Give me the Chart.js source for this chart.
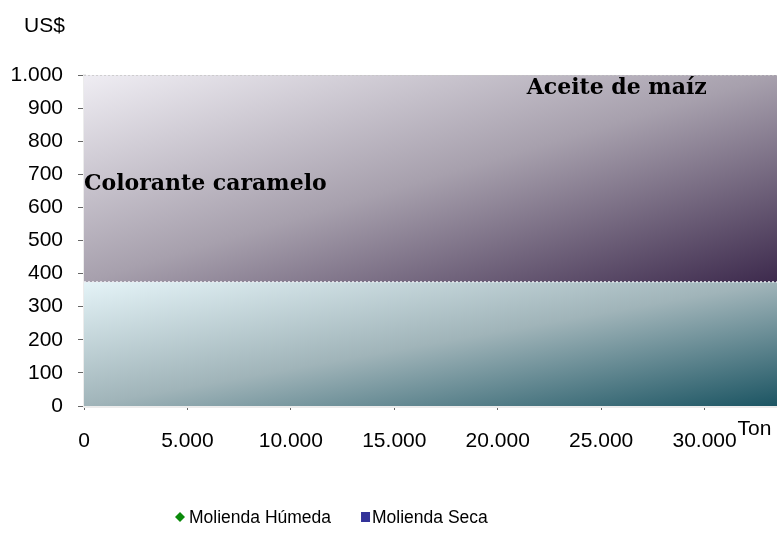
<!DOCTYPE html>
<html>
<head>
<meta charset="utf-8">
<script src="https://cdn.jsdelivr.net/npm/chart.js@4"></script>
<style>
html,body{margin:0;padding:0;background:#fff;}
#wrap{width:777px;height:533px;position:relative;}
</style>
</head>
<body>
<div id="wrap"><canvas id="c" width="777" height="533"></canvas></div>
<script>
// ---- data ----
const xExtent = [0, 33500];                 // Ton
const coloranteUpper = [375, 375];          // US$ (upper edge of "Colorante caramelo" band)
const aceiteUpper = [1000, 1000];           // US$ (upper edge of "Aceite de maíz" band)
const bandNames = ['Colorante caramelo', 'Aceite de maíz'];
const bandLabelX = [0, 21400];
const bandLabelY = [670, 960];
const seriesNames = ['Molienda Húmeda', 'Molienda Seca'];
const seriesColors = ['#0a8a0a', '#333399'];
const xTicks = [0, 5000, 10000, 15000, 20000, 25000, 30000];
const yTicks = [0, 100, 200, 300, 400, 500, 600, 700, 800, 900, 1000];

function fmt(v){ return v.toString().replace(/\B(?=(\d{3})+(?!\d))/g, '.'); }

function bandGradient(chart, yLow, yHigh, stops){
  const xs = chart.scales.x, ys = chart.scales.y;
  if (!xs || !ys || !chart.chartArea) return stops[1];
  const l = xs.getPixelForValue(xExtent[0]), r = xs.getPixelForValue(xExtent[1]);
  const t = ys.getPixelForValue(yHigh), b = ys.getPixelForValue(yLow);
  const w = r - l, h = b - t;
  const cx = (l + r) / 2, cy = (t + b) / 2;
  const k = w * h / (w * w + h * h);
  const g = chart.ctx.createLinearGradient(cx - k * h, cy - k * w, cx + k * h, cy + k * w);
  g.addColorStop(0, stops[0]);
  g.addColorStop(0.5, stops[1]);
  g.addColorStop(1, stops[2]);
  return g;
}

const pts = (ys) => xExtent.map((x, i) => ({x: x, y: ys[i]}));

const textPlugin = {
  id: 'texts',
  afterDatasetsDraw(chart){
    const ctx = chart.ctx, xs = chart.scales.x, ys = chart.scales.y;
    ctx.save();
    ctx.fillStyle = '#000';
    ctx.font = 'bold 22px "DejaVu Serif", serif';
    ctx.textBaseline = 'middle';
    ctx.textAlign = 'left';
    bandNames.forEach((n, i) => {
      ctx.fillText(n, xs.getPixelForValue(bandLabelX[i]), ys.getPixelForValue(bandLabelY[i]));
    });
    ctx.restore();
  },
  afterDraw(chart){
    const ctx = chart.ctx, xs = chart.scales.x;
    ctx.save();
    ctx.fillStyle = '#000';
    ctx.font = '21px "Liberation Sans", Arial, sans-serif';
    ctx.textBaseline = 'middle';
    ctx.textAlign = 'left';
    ctx.fillText('US$', 24, 26);
    ctx.fillText('Ton', xs.getPixelForValue(30000) + 33, 429);
    // legend
    ctx.font = '17.5px "Liberation Sans", Arial, sans-serif';
    let x = 175;
    const y = 517;
    seriesNames.forEach((n, i) => {
      ctx.fillStyle = seriesColors[i];
      let tx;
      if (i === 0) {
        ctx.beginPath();
        ctx.moveTo(x + 5, y - 5); ctx.lineTo(x + 10, y); ctx.lineTo(x + 5, y + 5); ctx.lineTo(x, y);
        ctx.closePath(); ctx.fill();
        tx = x + 14;
      } else {
        ctx.fillRect(x, y - 5, 9, 10);
        tx = x + 11;
      }
      ctx.fillStyle = '#000';
      ctx.fillText(n, tx, y + 1);
      x = tx + ctx.measureText(n).width + 30;
    });
    ctx.restore();
  }
};

new Chart(document.getElementById('c'), {
  type: 'scatter',
  data: {
    datasets: [
      {
        label: bandNames[0],
        data: pts(coloranteUpper),
        showLine: true,
        fill: 'origin',
        pointRadius: 0,
        borderWidth: 1.5,
        borderDash: [2, 2],
        borderColor: 'rgba(235,235,240,0.95)',
        backgroundColor: (c) => bandGradient(c.chart, 0, coloranteUpper[0], ['#e4f3f7', '#a0b4b9', '#1c5563'])
      },
      {
        label: bandNames[1],
        data: pts(aceiteUpper),
        showLine: true,
        fill: '-1',
        pointRadius: 0,
        borderWidth: 1.5,
        borderDash: [2, 2],
        borderColor: '#c4c4c4',
        backgroundColor: (c) => bandGradient(c.chart, coloranteUpper[0], aceiteUpper[0], ['#efedf3', '#a7a0ad', '#3d2a4d'])
      }
    ]
  },
  options: {
    responsive: false,
    animation: false,
    layout: {padding: {top: 75, left: 0, right: 0, bottom: 80}},
    plugins: {legend: {display: false}, tooltip: {enabled: false}},
    scales: {
      x: {
        type: 'linear',
        min: xExtent[0], max: xExtent[1],
        afterBuildTicks: (s) => { s.ticks = xTicks.map(v => ({value: v})); },
        afterFit: (s) => { s.height = 47; },
        ticks: {
          font: {family: '"Liberation Sans", Arial, sans-serif', size: 21},
          color: '#000', padding: 19, maxRotation: 0, autoSkip: false,
          callback: (v) => fmt(v)
        },
        grid: {drawOnChartArea: false, color: '#666', tickLength: 4, tickWidth: 1},
        border: {color: '#ececec', width: 3}
      },
      y: {
        min: 0, max: 1000,
        afterBuildTicks: (s) => { s.ticks = yTicks.map(v => ({value: v})); },
        afterFit: (s) => { s.width = 84; },
        ticks: {
          font: {family: '"Liberation Sans", Arial, sans-serif', size: 21},
          color: '#000', padding: 15, autoSkip: false,
          callback: (v) => fmt(v)
        },
        grid: {drawOnChartArea: false, color: '#666', tickLength: 6, tickWidth: 1},
        border: {color: '#ececec', width: 3}
      }
    }
  },
  plugins: [textPlugin]
});
</script>
</body>
</html>
